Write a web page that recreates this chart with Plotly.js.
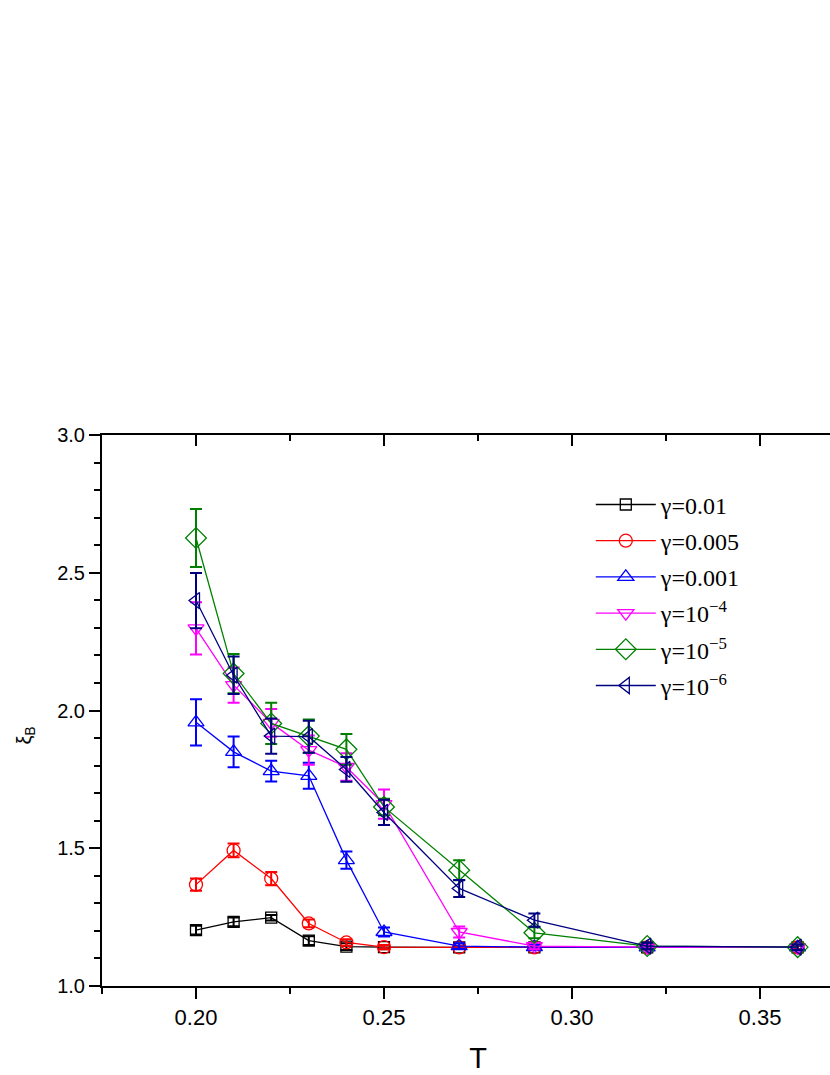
<!DOCTYPE html>
<html>
<head>
<meta charset="utf-8">
<script src="https://cdn.plot.ly/plotly-3.0.1.min.js"></script>
<style>
html, body { margin:0; padding:0; overflow:hidden; background:#fff; }
#chart { width:900px; height:1075px; }
</style>
</head>
<body>
<div id="chart"></div>
<script>
// ---- data ----
const T = [0.20, 0.21, 0.22, 0.23, 0.24, 0.25, 0.27, 0.29, 0.32, 0.36];

const names = ['γ=0.01', 'γ=0.005', 'γ=0.001', 'γ=10<sup>−4</sup>', 'γ=10<sup>−5</sup>', 'γ=10<sup>−6</sup>'];

const g1    = [1.203, 1.233, 1.248, 1.165, 1.143, 1.141, 1.140, 1.140, 1.140, 1.140];
const g1err = [0.016, 0.016, 0.010, 0.016, 0.012, 0.008, 0.006, 0.006, 0.006, 0.006];

const g2    = [1.368, 1.492, 1.390, 1.227, 1.158, 1.141, 1.140, 1.140, 1.140, 1.140];
const g2err = [0.022, 0.025, 0.024, 0.014, 0.012, 0.008, 0.006, 0.006, 0.006, 0.006];

const g3    = [1.957, 1.850, 1.780, 1.763, 1.457, 1.196, 1.145, 1.141, 1.140, 1.140];
const g3err = [0.084, 0.056, 0.038, 0.047, 0.031, 0.016, 0.010, 0.008, 0.008, 0.008];

const g4    = [2.298, 2.092, 1.955, 1.856, 1.795, 1.660, 1.196, 1.145, 1.141, 1.140];
const g4err = [0.095, 0.064, 0.050, 0.053, 0.050, 0.053, 0.020, 0.012, 0.010, 0.010];

const g5    = [2.626, 2.134, 1.953, 1.907, 1.859, 1.650, 1.420, 1.193, 1.145, 1.141];
const g5err = [0.105, 0.071, 0.075, 0.060, 0.056, 0.030, 0.036, 0.020, 0.012, 0.010];

const g6    = [2.399, 2.128, 1.907, 1.905, 1.786, 1.630, 1.354, 1.239, 1.145, 1.141];
const g6err = [0.100, 0.068, 0.064, 0.058, 0.045, 0.046, 0.031, 0.024, 0.012, 0.010];

const xTicks = [0.20, 0.25, 0.30, 0.35];
const xTickText = ['0.20', '0.25', '0.30', '0.35'];
const xMinor = [0.175, 0.225, 0.275, 0.325, 0.375];
const yTicks = [1.0, 1.5, 2.0, 2.5, 3.0];
const yTickText = ['1.0', '1.5', '2.0', '2.5', '3.0'];
const yMinor = [1.1, 1.2, 1.3, 1.4, 1.6, 1.7, 1.8, 1.9, 2.1, 2.2, 2.3, 2.4, 2.6, 2.7, 2.8, 2.9];

// ---- styles ----
const series = [
  {y: g1, e: g1err, color: '#000000', symbol: 'square-open', size: 11},
  {y: g2, e: g2err, color: '#ff0000', symbol: 'circle-open', size: 13},
  {y: g3, e: g3err, color: '#0000ff', symbol: 'triangle-up-open', size: 14},
  {y: g4, e: g4err, color: '#ff00ff', symbol: 'triangle-down-open', size: 14},
  {y: g5, e: g5err, color: '#008000', symbol: 'diamond-open', size: 16},
  {y: g6, e: g6err, color: '#000080', symbol: 'triangle-left-open', size: 14}
];

const traces = series.map((s, i) => ({
  type: 'scatter',
  mode: 'lines+markers',
  x: T,
  y: s.y,
  name: names[i],
  legendgroup: 'g' + i,
  line: {color: s.color, width: 1.3},
  marker: {symbol: s.symbol, size: s.size, color: s.color, line: {color: s.color, width: 1.3}},
  error_y: {type: 'data', array: s.e, visible: true, color: s.color, thickness: 2, width: 6}
}));

traces.push({x: [], y: [], xaxis: 'x2', yaxis: 'y', showlegend: false, hoverinfo: 'skip'});

const axisFont = {family: 'Liberation Sans, Arial, sans-serif', color: '#000'};

const layout = {
  width: 900,
  height: 1075,
  margin: {l: 102, r: 46, t: 435, b: 89},
  paper_bgcolor: '#fff',
  plot_bgcolor: '#fff',
  showlegend: true,
  legend: {
    x: 0.650, y: 0.914, xanchor: 'left', yanchor: 'top',
    font: {family: 'Liberation Serif, Times New Roman, serif', size: 24, color: '#000'},
    itemwidth: 60,
    bgcolor: 'rgba(0,0,0,0)',
    borderwidth: 0,
    traceorder: 'grouped',
    tracegroupgap: 2
  },
  xaxis: {
    range: [0.175, 0.375],
    showgrid: false, zeroline: false,
    showline: true, linecolor: '#000', linewidth: 2,
    ticks: 'outside', ticklen: 11, tickwidth: 2, tickcolor: '#000',
    tickmode: 'array', tickvals: xTicks, ticktext: xTickText,
    tickfont: Object.assign({size: 22}, axisFont),
    minor: {tickmode: 'array', tickvals: xMinor, ticks: 'outside', ticklen: 6, tickwidth: 2, tickcolor: '#000', showgrid: false},
    title: {text: 'T', font: Object.assign({size: 29}, axisFont), standoff: 18}
  },
  xaxis2: {
    overlaying: 'x', side: 'top', anchor: 'y',
    range: [0.175, 0.375],
    showgrid: false, zeroline: false,
    showline: true, linecolor: '#000', linewidth: 2,
    ticks: 'inside', ticklen: 11, tickwidth: 2, tickcolor: '#000',
    tickmode: 'array', tickvals: xTicks, showticklabels: false,
    minor: {tickmode: 'array', tickvals: xMinor, ticks: 'inside', ticklen: 6, tickwidth: 2, tickcolor: '#000', showgrid: false}
  },
  yaxis: {
    range: [1.0, 3.0],
    showgrid: false, zeroline: false,
    showline: true, linecolor: '#000', linewidth: 2,
    ticks: 'outside', ticklen: 11, tickwidth: 2, tickcolor: '#000',
    tickmode: 'array', tickvals: yTicks, ticktext: yTickText,
    tickfont: Object.assign({size: 20}, axisFont),
    minor: {tickmode: 'array', tickvals: yMinor, ticks: 'outside', ticklen: 6, tickwidth: 2, tickcolor: '#000', showgrid: false}
  },
  annotations: [{
    text: 'ξ<sub>B</sub>',
    xref: 'paper', yref: 'y',
    x: -0.102, y: 1.91,
    xanchor: 'center', yanchor: 'middle',
    textangle: -90,
    showarrow: false,
    font: Object.assign({size: 20}, axisFont)
  }]
};

Plotly.newPlot('chart', traces, layout, {displayModeBar: false, staticPlot: true});
</script>
</body>
</html>
